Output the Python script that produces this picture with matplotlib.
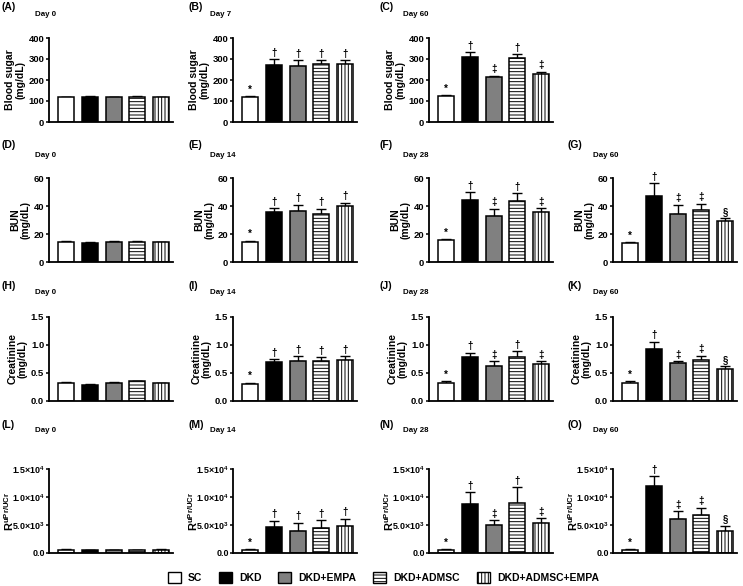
import matplotlib
matplotlib.use("Agg")
import matplotlib.pyplot as plt
from matplotlib.patches import Patch

plt.rcParams["font.family"] = ["Liberation Sans", "DejaVu Sans"]
plt.rcParams["font.weight"] = "bold"
plt.rcParams["mathtext.fontset"] = "custom"
plt.rcParams["mathtext.rm"] = "Liberation Sans"
plt.rcParams["mathtext.bf"] = "Liberation Sans:bold"
plt.rcParams["hatch.linewidth"] = 0.7

groups = ["SC", "DKD", "DKD+EMPA", "DKD+ADMSC", "DKD+ADMSC+EMPA"]
fills = ["white", "black", "#808080", "white", "white"]
hatches = [None, None, None, "-----", "|||||"]

# blood sugar (mg/dL)
sugar_d0 = [118, 120, 117, 119, 118]
sugar_d0_err = [3, 3, 4, 3, 3]
sugar_d7 = [118, 270, 267, 275, 275]
sugar_d7_err = [4, 28, 27, 18, 18]
sugar_d60 = [125, 310, 213, 303, 228]
sugar_d60_err = [4, 22, 8, 20, 12]

# BUN (mg/dL)
bun_d0 = [14.3, 13.5, 14.5, 14.3, 14.0]
bun_d0_err = [0.5, 0.6, 0.4, 0.9, 0.5]
bun_d14 = [14.3, 35.5, 36.5, 34.5, 40.0]
bun_d14_err = [1.0, 3.0, 4.5, 3.5, 2.5]
bun_d28 = [15.5, 44.0, 33.0, 43.5, 36.0]
bun_d28_err = [1.0, 6.0, 5.0, 5.5, 2.5]
bun_d60 = [13.7, 47.5, 34.5, 37.3, 29.5]
bun_d60_err = [0.7, 9.0, 6.5, 4.3, 1.7]

# creatinine (mg/dL)
cre_d0 = [0.33, 0.29, 0.33, 0.35, 0.32]
cre_d0_err = [0.01, 0.01, 0.01, 0.01, 0.005]
cre_d14 = [0.30, 0.69, 0.71, 0.71, 0.73]
cre_d14_err = [0.03, 0.06, 0.09, 0.07, 0.07]
cre_d28 = [0.33, 0.79, 0.63, 0.79, 0.66]
cre_d28_err = [0.02, 0.07, 0.08, 0.10, 0.05]
cre_d60 = [0.32, 0.93, 0.68, 0.73, 0.57]
cre_d60_err = [0.03, 0.13, 0.03, 0.08, 0.05]

# urine protein / creatinine ratio
upr_d0 = [600, 550, 570, 560, 580]
upr_d0_err = [50, 40, 50, 40, 50]
upr_d14 = [600, 4700, 4000, 4500, 4900]
upr_d14_err = [50, 1100, 1400, 1400, 1200]
upr_d28 = [600, 8700, 5000, 9000, 5400]
upr_d28_err = [100, 2200, 900, 2700, 800]
upr_d60 = [600, 11900, 6000, 6700, 4000]
upr_d60_err = [100, 1800, 1500, 1400, 900]

no_marks = ["", "", "", "", ""]
marks_up = ["*", "†", "†", "†", "†"]
marks_mid = ["*", "†", "‡", "†", "‡"]
marks_late = ["*", "†", "‡", "‡", "§"]

sugar_ticks = [0, 100, 200, 300, 400]
sugar_labels = ["0", "100", "200", "300", "400"]
bun_ticks = [0, 20, 40, 60]
bun_labels = ["0", "20", "40", "60"]
cre_ticks = [0, 0.5, 1.0, 1.5]
cre_labels = ["0.0", "0.5", "1.0", "1.5"]
upr_ticks = [0, 5000, 10000, 15000]
upr_labels = ["0.0", "5.0×10$^{\\mathbf{3}}$", "1.0×10$^{\\mathbf{4}}$", "1.5×10$^{\\mathbf{4}}$"]

sugar_name = "Blood sugar\n(mg/dL)"
bun_name = "BUN\n(mg/dL)"
cre_name = "Creatinine\n(mg/dL)"
upr_name = "R$^{\\mathbf{uPr/UCr}}$"

panels = [
    ("(A)", "Day 0", 0, 0, sugar_d0, sugar_d0_err, no_marks, sugar_name, sugar_ticks, sugar_labels),
    ("(B)", "Day 7", 0, 1, sugar_d7, sugar_d7_err, marks_up, sugar_name, sugar_ticks, sugar_labels),
    ("(C)", "Day 60", 0, 2, sugar_d60, sugar_d60_err, marks_mid, sugar_name, sugar_ticks, sugar_labels),
    ("(D)", "Day 0", 1, 0, bun_d0, bun_d0_err, no_marks, bun_name, bun_ticks, bun_labels),
    ("(E)", "Day 14", 1, 1, bun_d14, bun_d14_err, marks_up, bun_name, bun_ticks, bun_labels),
    ("(F)", "Day 28", 1, 2, bun_d28, bun_d28_err, marks_mid, bun_name, bun_ticks, bun_labels),
    ("(G)", "Day 60", 1, 3, bun_d60, bun_d60_err, marks_late, bun_name, bun_ticks, bun_labels),
    ("(H)", "Day 0", 2, 0, cre_d0, cre_d0_err, no_marks, cre_name, cre_ticks, cre_labels),
    ("(I)", "Day 14", 2, 1, cre_d14, cre_d14_err, marks_up, cre_name, cre_ticks, cre_labels),
    ("(J)", "Day 28", 2, 2, cre_d28, cre_d28_err, marks_mid, cre_name, cre_ticks, cre_labels),
    ("(K)", "Day 60", 2, 3, cre_d60, cre_d60_err, marks_late, cre_name, cre_ticks, cre_labels),
    ("(L)", "Day 0", 3, 0, upr_d0, upr_d0_err, no_marks, upr_name, upr_ticks, upr_labels),
    ("(M)", "Day 14", 3, 1, upr_d14, upr_d14_err, marks_up, upr_name, upr_ticks, upr_labels),
    ("(N)", "Day 28", 3, 2, upr_d28, upr_d28_err, marks_mid, upr_name, upr_ticks, upr_labels),
    ("(O)", "Day 60", 3, 3, upr_d60, upr_d60_err, marks_late, upr_name, upr_ticks, upr_labels),
]

W, H = 743, 586
fig = plt.figure(figsize=(W / 100, H / 100), dpi=100)

# layout in pixels
col_x = [49, 233, 429, 613]
row_top = [38, 178, 317, 469]
ax_w, ax_h = 124, 84
tag_x = [2, 188, 380, 567]
day_x = [35, 210, 403, 593]
tag_y = [7, 145, 286, 425]
day_y = [15, 155, 293, 431]

xs = list(range(len(groups)))

for tag, day, r, c, vals, errs, marks, ylab, ticks, tlabels in panels:
    ax = fig.add_axes([col_x[c] / W, 1 - (row_top[r] + ax_h) / H, ax_w / W, ax_h / H])
    ax.bar(xs, vals, width=0.68, color=fills, edgecolor="black",
           linewidth=1.1, hatch=hatches, zorder=2)
    ax.errorbar(xs, vals, yerr=[[0] * 5, errs], fmt="none", ecolor="black",
                elinewidth=1.0, capsize=3.3, capthick=1.0, zorder=1)
    for x, v, e, m in zip(xs, vals, errs, marks):
        if m:
            ax.annotate(m, (x, v + e), xytext=(0, 1), textcoords="offset points",
                        ha="center", va="bottom", fontsize=7, fontweight="bold",
                        annotation_clip=False)
    ax.set_xlim(-0.72, 4.5)
    ax.set_ylim(0, ticks[-1])
    ax.set_yticks(ticks)
    ax.set_yticklabels(tlabels)
    ax.set_xticks([])
    for s in ["top", "right"]:
        ax.spines[s].set_visible(False)
    for s in ["left", "bottom"]:
        ax.spines[s].set_linewidth(1.3)
    if r == 3:
        ax.tick_params(axis="y", length=2, width=1.1, pad=0.8, labelsize=6.4)
        ax.set_ylabel(ylab, fontsize=8, fontweight="bold")
        ax.yaxis.set_label_coords(-0.27, 0.5)
    else:
        ax.tick_params(axis="y", length=2.5, width=1.1, pad=1, labelsize=6.8)
        ax.set_ylabel(ylab, fontsize=7.5, fontweight="bold", labelpad=2, linespacing=1.0)
    fig.text(tag_x[c] / W, 1 - tag_y[r] / H, tag, fontsize=7.5, fontweight="bold",
             ha="left", va="center")
    fig.text(day_x[c] / W, 1 - day_y[r] / H, day, fontsize=5.7, fontweight="bold",
             ha="left", va="center")

handles = [Patch(facecolor=f, edgecolor="black", hatch=h, linewidth=1.0)
           for f, h in zip(fills, hatches)]
fig.legend(handles, groups, loc="center", bbox_to_anchor=(0.516, 0.014), ncol=5,
           frameon=False, prop={"size": 7.5, "weight": "bold"},
           handlelength=1.25, handleheight=1.25, handletextpad=0.7,
           columnspacing=1.6, borderpad=0.1)

fig.savefig("out.png", dpi=100)
